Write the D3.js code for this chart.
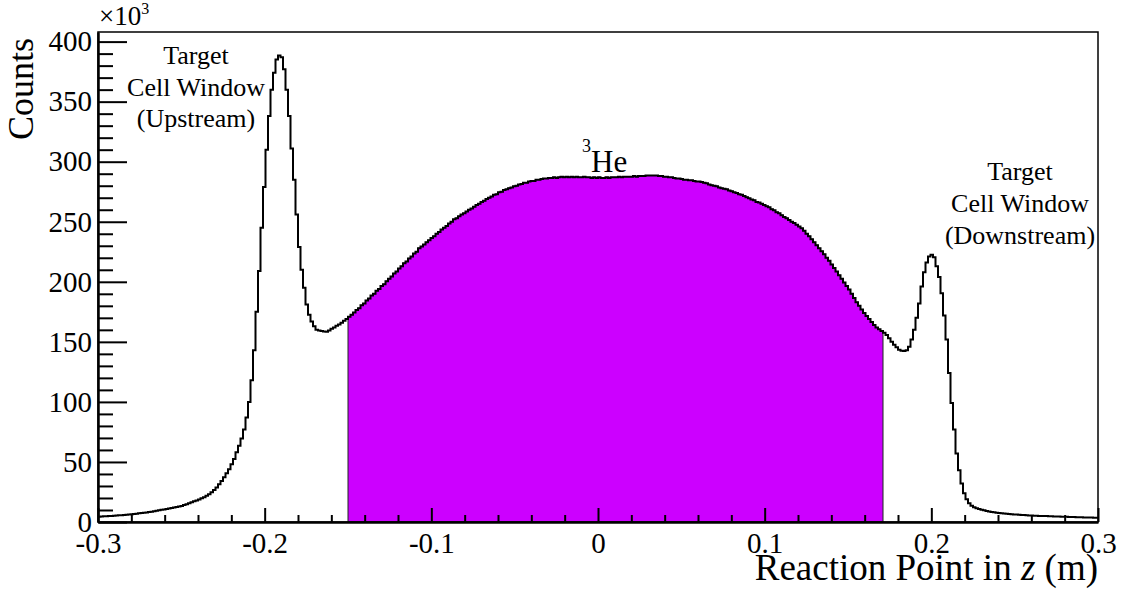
<!DOCTYPE html>
<html>
<head>
<meta charset="utf-8">
<script src="https://cdn.jsdelivr.net/npm/d3@7"></script>
<style>
  html, body { margin: 0; padding: 0; background: #fff; }
  svg { display: block; }
</style>
</head>
<body>
<svg id="chart" width="1131" height="597"></svg>
<script>
// Histogram binning of the reaction point
const zMin = -0.3;
const zMax = 0.3;
const binWidth = 0.0015;

// Counts per bin, in thousands (400 bins from -0.3 m to 0.3 m)
const countsK = [
  4.4, 4.5, 4.7, 4.8, 5.0, 5.1, 5.3, 5.4, 5.6, 5.7,
  5.9, 6.1, 6.3, 6.4, 6.7, 6.9, 7.2, 7.4, 7.7, 8.0,
  8.3, 8.6, 8.9, 9.3, 9.7, 10.1, 10.5, 10.9, 11.3, 11.7,
  12.1, 12.5, 12.9, 13.4, 14.1, 14.8, 15.6, 16.4, 17.2, 18.0,
  18.8, 19.7, 20.6, 21.8, 23.2, 24.8, 26.6, 28.8, 31.4, 34.2,
  37.3, 40.6, 44.0, 48.0, 52.5, 58.0, 63.5, 69.5, 77.0, 87.0,
  100, 118, 143, 175, 209, 245, 279, 310, 338, 360,
  374, 385, 388.5, 387, 377, 360, 338, 311, 285, 256,
  229, 210, 195, 181, 172.5, 167, 163, 160, 159.5, 159,
  158.6, 158.5, 159.5, 161, 162, 163.5, 164.5, 166, 167.5, 169,
  171, 172.5, 174.5, 176.5, 178, 180.5, 182, 184.5, 186, 188.5,
  190, 192.5, 194, 196.5, 198, 200.5, 202.5, 204.5, 207, 208.5,
  211, 213, 215.5, 217, 219.5, 221, 223.5, 225, 228, 229.5,
  231, 233, 234.5, 236.5, 238, 240, 241.5, 243.5, 245, 246.5,
  248.5, 250, 252, 253, 254.5, 256, 257, 258.5, 260, 261,
  262.5, 264, 265, 266.5, 267.5, 269, 270, 271, 272.5, 273,
  274.5, 275, 276.5, 277, 278, 278.5, 279.5, 280, 281, 281.5,
  282.5, 282.5, 283.5, 284, 284, 285, 285, 285.5, 286, 286,
  286.5, 286.5, 287, 286.5, 287, 287.5, 287, 287.5, 287, 287.5,
  287, 287.5, 287, 287, 287.5, 287, 287, 286.5, 287, 286.5,
  287, 286.5, 286.5, 287, 286.5, 287, 287, 287, 287.5, 287,
  287.5, 287.5, 287.5, 287.5, 288, 287.5, 288, 288, 288, 288.5,
  288.5, 288.5, 288.5, 288.5, 288, 288, 287.5, 287.5, 287, 287,
  286.5, 286, 286, 285.5, 285, 285, 284.5, 284.5, 284, 283.5,
  283.5, 283, 282.5, 282, 281, 280.5, 280, 279.5, 278.5, 278,
  277.5, 277, 276, 275.5, 274.5, 274, 273, 272.5, 271.5, 270.5,
  269.5, 268.5, 268, 266.5, 266, 265, 264, 263, 262, 260.5,
  259.5, 258, 257, 255.5, 254, 253, 251.5, 250, 249, 247.5,
  246, 244.5, 242.5, 240, 238, 235.5, 233, 230.5, 228, 225.5,
  223, 220, 217.5, 214.5, 211.5, 208.5, 205.5, 202.5, 199.5, 196.5,
  193.5, 190, 186.5, 183, 180, 177, 174, 171.5, 169, 166.5,
  164, 162, 160.5, 159, 157.5, 155.8, 153, 150, 147.5, 145.6,
  143.5, 142.5, 142.3, 143, 146, 152, 160, 170, 182, 196,
  208, 216, 221, 222.5, 220.5, 213, 204, 190.5, 172, 152,
  124, 99, 77, 57, 43, 32, 24, 19, 15.6, 13.5,
  12.3, 11.5, 10.8, 10.2, 9.7, 9.2, 8.8, 8.4, 8.1, 7.8,
  7.5, 7.3, 7.1, 6.9, 6.7, 6.5, 6.3, 6.2, 6.0, 5.9,
  5.8, 5.7, 5.5, 5.4, 5.3, 5.2, 5.1, 5.0, 4.9, 4.9,
  4.8, 4.7, 4.6, 4.6, 4.5, 4.4, 4.3, 4.3, 4.2, 4.1,
  4.1, 4.0, 3.9, 3.9, 3.8, 3.8, 3.7, 3.7, 3.6, 3.6
];

// Range of z shaded as the 3He gas region
const heliumRange = [-0.15, 0.17];

// Axis ticks and labels
const xTicks = [-0.3, -0.2, -0.1, 0, 0.1, 0.2, 0.3];
const xTickLabels = ["-0.3", "-0.2", "-0.1", "0", "0.1", "0.2", "0.3"];
const yTicks = [0, 50, 100, 150, 200, 250, 300, 350, 400];
const yTickLabels = ["0", "50", "100", "150", "200", "250", "300", "350", "400"];
const yMaxK = 408;

// Text
const xTitle = "Reaction Point in ";
const yTitle = "Counts";
const upstreamLabel = ["Target", "Cell Window", "(Upstream)"];
const downstreamLabel = ["Target", "Cell Window", "(Downstream)"];

// ---------------------------------------------------------------
const FONT = "'Liberation Serif'";
const serif = sel => sel.attr("font-family", "Liberation Serif").style("font-family", FONT).style("fill", "#000");

const frame = { left: 98, right: 1098, top: 32, bottom: 522 };
const svg = d3.select("#chart").attr("font-family", "Liberation Serif").style("font-family", FONT);

const x = d3.scaleLinear().domain([zMin, zMax]).range([frame.left, frame.right]);
const y = d3.scaleLinear().domain([0, yMaxK]).range([frame.bottom, frame.top]);

const bins = countsK.map((v, i) => ({
  x0: zMin + i * binWidth,
  x1: zMin + (i + 1) * binWidth,
  v
}));

// Shaded region: bins overlapping the helium range
const shaded = bins.filter(b => b.x1 > heliumRange[0] + 1e-9 && b.x0 <= heliumRange[1]);
const stepPoints = arr => arr.map(b => [b.x0, b.v]).concat([[arr[arr.length - 1].x1, arr[arr.length - 1].v]]);

const area = d3.area()
  .x(d => x(d[0]))
  .y0(y(0))
  .y1(d => y(d[1]))
  .curve(d3.curveStepAfter);

svg.append("path")
  .datum(stepPoints(shaded))
  .attr("d", area)
  .attr("fill", "#cc00ff")
  .attr("stroke", "#1a2a1a")
  .attr("stroke-width", 1);

// Histogram outline
const line = d3.line()
  .x(d => x(d[0]))
  .y(d => y(d[1]))
  .curve(d3.curveStepAfter);

svg.append("path")
  .datum(stepPoints(bins))
  .attr("d", line)
  .attr("fill", "none")
  .attr("stroke", "#000")
  .attr("stroke-width", 2)
  .attr("stroke-linejoin", "miter");

// Frame
svg.append("rect")
  .attr("x", frame.left).attr("y", frame.top)
  .attr("width", frame.right - frame.left).attr("height", frame.bottom - frame.top)
  .attr("fill", "none").attr("stroke", "#000").attr("stroke-width", 1.5);

// Tick labels in the serif face
function relabel(g, size) {
  g.attr("font-family", "Liberation Serif").style("font-family", FONT);
  g.selectAll(".tick text").each(function () {
    const t = d3.select(this);
    const s = t.text();
    t.text(null);
    serif(t).style("font-size", size + "px");
    serif(t.append("tspan")).text(s);
  });
}

// Y axis: minor ticks, then major ticks with labels
const yMinor = d3.range(0, yMaxK + 0.1, 10).filter(v => v % 50 !== 0);
svg.append("g")
  .attr("transform", `translate(${frame.left},0)`)
  .call(d3.axisLeft(y).tickValues(yMinor).tickSize(-15).tickFormat(""))
  .call(g => g.select(".domain").remove())
  .call(g => g.selectAll("line").attr("stroke-width", 2));

svg.append("g")
  .attr("transform", `translate(${frame.left},0)`)
  .call(d3.axisLeft(y).tickValues(yTicks).tickSize(-29).tickSizeOuter(0).tickPadding(6)
    .tickFormat((d, i) => yTickLabels[i]))
  .call(g => g.select(".domain").attr("stroke-width", 2.5))
  .call(g => g.selectAll("line").attr("stroke-width", 2))
  .call(g => relabel(g, 29));

// X axis
const xMinor = d3.range(-15, 16).map(k => k * 0.02).filter(v => Math.abs(Math.round(v * 10) - v * 10) > 1e-6);
svg.append("g")
  .attr("transform", `translate(0,${frame.bottom})`)
  .call(d3.axisBottom(x).tickValues(xMinor).tickSize(-7).tickFormat(""))
  .call(g => g.select(".domain").remove())
  .call(g => g.selectAll("line").attr("stroke-width", 2));

svg.append("g")
  .attr("transform", `translate(0,${frame.bottom})`)
  .call(d3.axisBottom(x).tickValues(xTicks).tickSize(-14).tickSizeOuter(0).tickPadding(10)
    .tickFormat((d, i) => xTickLabels[i]))
  .call(g => g.select(".domain").attr("stroke-width", 2.5))
  .call(g => g.selectAll("line").attr("stroke-width", 2))
  .call(g => relabel(g, 29));

// Axis titles
const xt = serif(svg.append("text"))
  .attr("x", frame.right).attr("y", 580)
  .attr("text-anchor", "end")
  .style("font-size", "37px");
serif(xt.append("tspan")).text(xTitle);
serif(xt.append("tspan")).style("font-style", "italic").text("z");
serif(xt.append("tspan")).text(" (m)");

const yt = serif(svg.append("text"))
  .attr("transform", "translate(33,38) rotate(-90)")
  .attr("text-anchor", "end")
  .style("font-size", "36px");
serif(yt.append("tspan")).text(yTitle);

// Exponent of the y axis
const ex = serif(svg.append("text")).attr("x", 99).attr("y", 25).style("font-size", "27px");
serif(ex.append("tspan")).text("\u00d710");
serif(ex.append("tspan")).style("font-size", "16px").attr("dy", -11).text("3");

// Peak annotations
function block(lines, cx, y0, dy) {
  const t = serif(svg.append("text")).attr("text-anchor", "middle").style("font-size", "26px");
  lines.forEach((s, i) => serif(t.append("tspan")).attr("x", cx).attr("y", y0 + i * dy).text(s));
}
block(upstreamLabel, 196, 64, 31.5);
block(downstreamLabel, 1020, 180, 32);

const he = serif(svg.append("text")).attr("x", 582).attr("y", 172).style("font-size", "31px");
serif(he.append("tspan")).style("font-size", "18px").attr("dy", -20).text("3");
serif(he.append("tspan")).attr("dy", 20).text("He");
</script>
</body>
</html>
